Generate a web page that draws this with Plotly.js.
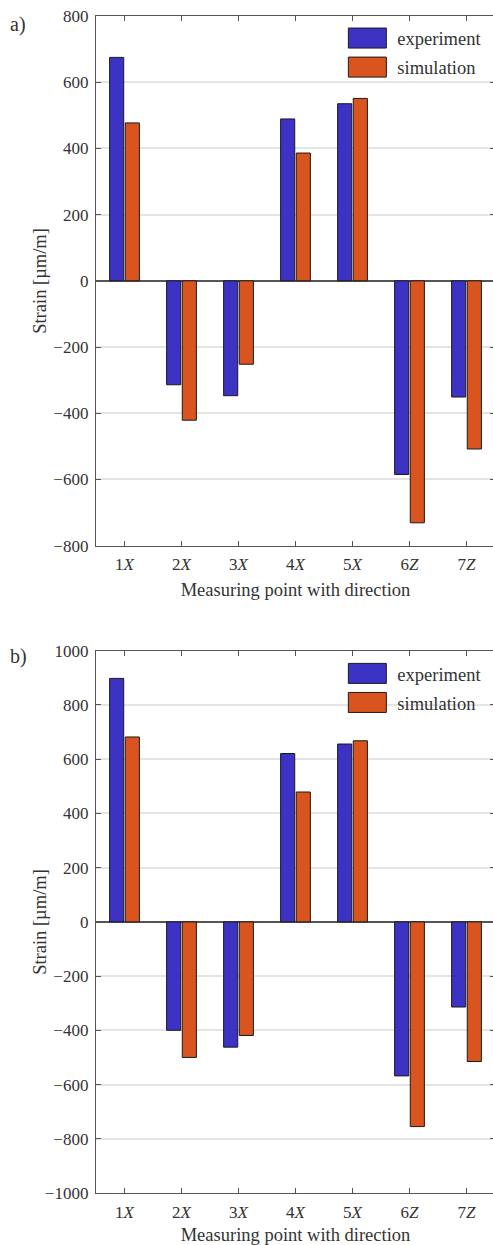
<!DOCTYPE html>
<html>
<head>
<meta charset="utf-8">
<script src="https://cdn.plot.ly/plotly-3.0.1.min.js"></script>
<style>
html, body { margin: 0; padding: 0; overflow: hidden; background: #fff; }
#chart { width: 500px; height: 1245px; }
</style>
</head>
<body>
<div id="chart"></div>
<script>
// ---- data ----
const categories = ['1X', '2X', '3X', '4X', '5X', '6Z', '7Z'];
const tickLabels = ['1<i>X</i>', '2<i>X</i>', '3<i>X</i>', '4<i>X</i>', '5<i>X</i>', '6<i>Z</i>', '7<i>Z</i>'];
const expA = [675, -314, -347, 489, 535, -585, -351];
const simA = [477, -421, -252, 386, 551, -731, -508];
const expB = [898, -400, -462, 621, 656, -568, -314];
const simB = [682, -500, -419, 479, 668, -755, -515];
const yTicksA = [-800, -600, -400, -200, 0, 200, 400, 600, 800];
const yTicksB = [-1000, -800, -600, -400, -200, 0, 200, 400, 600, 800, 1000];
const seriesNames = ['experiment', 'simulation'];
const panelLabels = ['a)', 'b)'];
const yTitle = 'Strain [µm/m]';
const xTitle = 'Measuring point with direction';

const blue = '#3c33c4';
const orange = '#d9541e';
const edge = '#1a1a1a';
const axisCol = '#555555';
const textCol = '#333333';
const fontFam = 'Liberation Serif, DejaVu Serif, serif';

const domA = [0.550, 1];
const domB = [0, 0.4607];

function bar(y, name, color, xa, ya, leg, grp) {
  return {
    type: 'bar', x: categories, y: y, name: name,
    xaxis: xa, yaxis: ya, legend: leg, legendgroup: grp,
    marker: { color: color, line: { color: edge, width: 1 } },
    hoverinfo: 'x+y+name'
  };
}

const traces = [
  bar(expA, seriesNames[0], blue, 'x', 'y', 'legend', 'a1'),
  bar(simA, seriesNames[1], orange, 'x', 'y', 'legend', 'a2'),
  bar(expB, seriesNames[0], blue, 'x2', 'y2', 'legend2', 'b1'),
  bar(simB, seriesNames[1], orange, 'x2', 'y2', 'legend2', 'b2')
];

function xAxis(anchor) {
  return {
    anchor: anchor, domain: [0, 1], type: 'category',
    range: [-0.5, 6.5],
    tickmode: 'array', tickvals: categories, ticktext: tickLabels,
    ticks: 'inside', ticklen: 5, tickwidth: 1, tickcolor: axisCol,
    showline: true, linecolor: axisCol, linewidth: 1.3, mirror: 'allticks',
    showgrid: false, zeroline: false,
    tickfont: { family: fontFam, size: 17, color: textCol },
    ticklabelstandoff: 3,
    title: { text: xTitle, font: { family: fontFam, size: 18.5, color: textCol }, standoff: 9 }
  };
}
function yAxis(anchor, domain, ticks) {
  return {
    anchor: anchor, domain: domain,
    range: [ticks[0], ticks[ticks.length - 1]],
    tickmode: 'array', tickvals: ticks,
    ticktext: ticks.map(v => v < 0 ? '\u2212' + Math.abs(v) : String(v)),
    ticks: 'inside', ticklen: 5, tickwidth: 1, tickcolor: axisCol,
    showline: true, linecolor: axisCol, linewidth: 1.3, mirror: 'allticks',
    showgrid: true, gridcolor: '#e4e4e4', gridwidth: 1.5,
    zeroline: true, zerolinecolor: axisCol, zerolinewidth: 1.5,
    tickfont: { family: fontFam, size: 17, color: textCol },
    ticklabelstandoff: 3
  };
}

const legendCommon = {
  xanchor: 'left', yanchor: 'top', bgcolor: 'rgba(0,0,0,0)', borderwidth: 0,
  font: { family: fontFam, size: 18.5, color: textCol },
  traceorder: 'grouped', tracegroupgap: 2, itemclick: false, itemdoubleclick: false
};

function yTitleAnn(domain) {
  return { text: yTitle, xref: 'paper', yref: 'paper', x: -0.1404, y: (domain[0] + domain[1]) / 2,
    xanchor: 'center', yanchor: 'middle', textangle: -90, showarrow: false,
    font: { family: fontFam, size: 18.5, color: textCol } };
}

const layout = {
  width: 500, height: 1245,
  margin: { l: 96, r: 5, t: 16, b: 52 },
  paper_bgcolor: '#ffffff', plot_bgcolor: '#ffffff',
  barmode: 'group', bargap: 0.45, bargroupgap: 0.1,
  showlegend: true,
  xaxis: xAxis('y'),
  yaxis: yAxis('x', domA, yTicksA),
  xaxis2: xAxis('y2'),
  yaxis2: yAxis('x2', domB, yTicksB),
  legend: Object.assign({ x: 0.655, y: 0.997 }, legendCommon),
  legend2: Object.assign({ x: 0.655, y: 0.4572 }, legendCommon),
  annotations: [
    { text: panelLabels[0], xref: 'paper', yref: 'paper', x: -0.22, y: 0.9926, xanchor: 'left', yanchor: 'middle', showarrow: false,
      font: { family: fontFam, size: 20, color: textCol } },
    { text: panelLabels[1], xref: 'paper', yref: 'paper', x: -0.22, y: 0.4555, xanchor: 'left', yanchor: 'middle', showarrow: false,
      font: { family: fontFam, size: 20, color: textCol } },
    yTitleAnn(domA),
    yTitleAnn(domB)
  ]
};

function fixLegendSymbols() {
  document.querySelectorAll('.infolayer [clip-path]').forEach(e => {
    if (e.closest('g[class^="legend"]')) e.removeAttribute('clip-path');
  });
  document.querySelectorAll('.legendpoints path').forEach(p => {
    p.setAttribute('d', 'M-29,-10h38v20h-38z');
    p.style.strokeWidth = '1px';
    p.style.stroke = edge;
  });
}

Plotly.newPlot('chart', traces, layout, { displayModeBar: false }).then(gd => {
  fixLegendSymbols();
  gd.on('plotly_afterplot', fixLegendSymbols);
});
</script>
</body>
</html>
